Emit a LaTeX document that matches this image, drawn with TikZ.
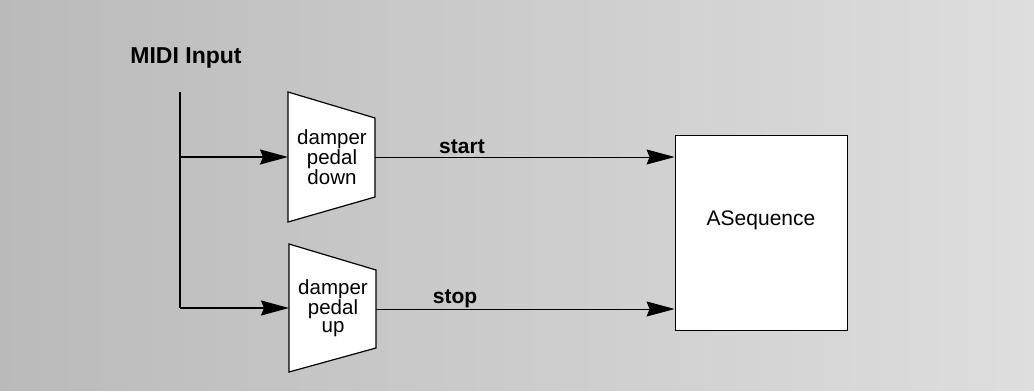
\documentclass[tikz,border=0pt]{standalone}
\usepackage{fontspec}
\setmainfont{Liberation Sans}
\usetikzlibrary{arrows.meta}
\tikzset{
  bigarrow/.style={line width=1.6pt, -{Stealth[length=28pt,width=15pt,inset=3pt]}},
  thinarrow/.style={line width=0.8pt, -{Stealth[length=28pt,width=15pt,inset=3pt]}},
  trapbox/.style={draw, line width=1.2pt, fill=white},
  traptext/.style={align=center, font=\fontsize{20.5}{18.5}\selectfont},
  lbl/.style={font=\fontsize{21}{21}\bfseries\selectfont, inner sep=0pt},
}
\begin{document}
\begin{tikzpicture}[x=1pt,y=-1pt]
\useasboundingbox (0,0) rectangle (1034,391);
\shade[left color=black!27, right color=black!13] (0,0) rectangle (1034,391);
% MIDI input
\node[font=\fontsize{23}{23}\bfseries\selectfont, inner sep=0pt, anchor=base] (midi) at (186,63) {MIDI Input};
\coordinate (vtop) at (180,92);
\coordinate (vbot) at (180,308);
\coordinate (vmid) at (180,157);
% trapezoid 1
\coordinate (t1a) at (288,92);
\coordinate (t1b) at (375,118);
\coordinate (t1c) at (375,197);
\coordinate (t1d) at (288,222);
\filldraw[trapbox] (t1a) -- (t1b) -- (t1c) -- (t1d) -- cycle;
\coordinate (t1in) at (288,157);
\coordinate (t1out) at (375,157);
\node[traptext] (p1) at (332,157) {damper\\pedal\\down};
% trapezoid 2
\coordinate (t2a) at (289,244);
\coordinate (t2b) at (376,270);
\coordinate (t2c) at (376,348);
\coordinate (t2d) at (289,372);
\filldraw[trapbox] (t2a) -- (t2b) -- (t2c) -- (t2d) -- cycle;
\coordinate (t2in) at (289,308);
\coordinate (t2out) at (376,309);
\node[traptext] (p2) at (333,308) {damper\\pedal\\up};
% ASequence box
\node[draw, line width=0.8pt, fill=white, minimum width=172pt, minimum height=195pt, inner sep=0pt] (seq) at (761,232.5) {};
\node[font=\fontsize{21}{21}\selectfont, inner sep=0pt] (seqtxt) at (761,220) {ASequence};
% connectors
\draw[line width=1.6pt] (vtop) -- (vbot);
\draw[bigarrow] (vmid) -- (t1in);
\draw[bigarrow] (vbot) -- (t2in);
\draw[thinarrow] (t1out) -- (t1out -| seq.west);
\draw[thinarrow] (t2out) -- (t2out -| seq.west);
\node[lbl, anchor=base] (start) at (462,153) {start};
\node[lbl, anchor=base] (stop) at (455,303) {stop};
\end{tikzpicture}
\end{document}
